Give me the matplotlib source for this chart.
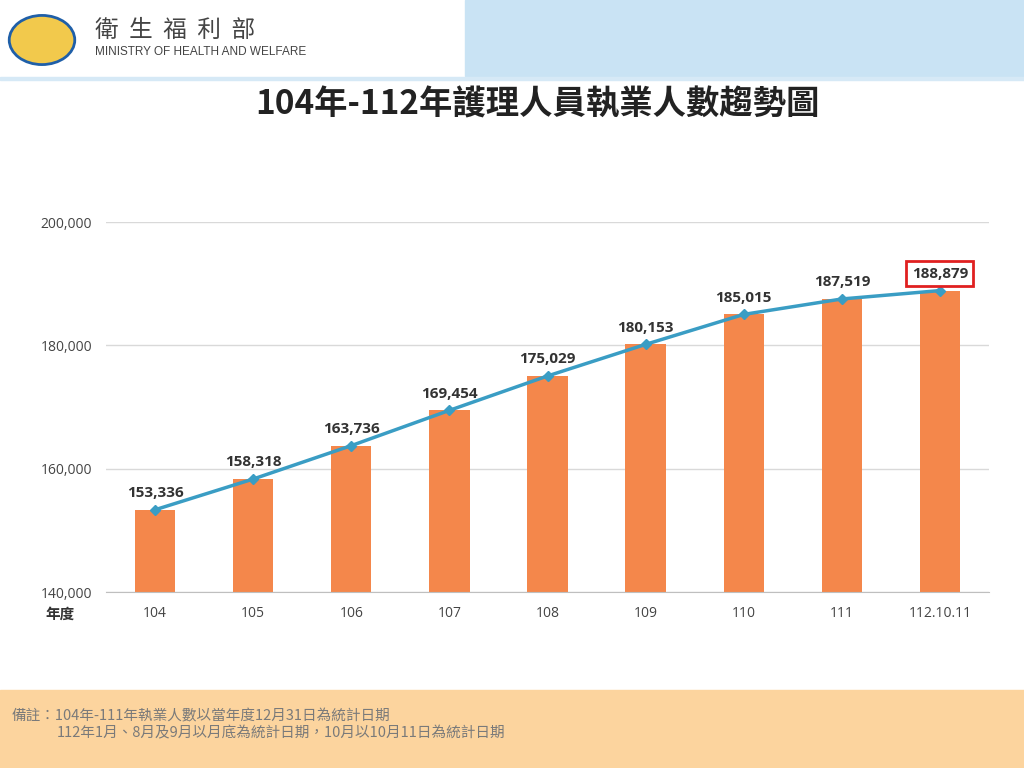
import matplotlib
matplotlib.use("Agg")
import matplotlib.pyplot as plt
from matplotlib.patches import Rectangle, Circle

plt.rcParams["font.family"] = ["Open Sans", "Noto Sans CJK TC", "DejaVu Sans"]
CJK = ["Noto Sans CJK TC", "DejaVu Sans"]

years = ["104", "105", "106", "107", "108", "109", "110", "111", "112.10.11"]
nurses = [153336, 158318, 163736, 169454, 175029, 180153, 185015, 187519, 188879]
yticks = [140000, 160000, 180000, 200000]

fig = plt.figure(figsize=(10.24, 7.68), dpi=100)

# header
fig.patches.append(Rectangle((465 / 1024, 1 - 76 / 768), 1 - 465 / 1024, 76 / 768,
                             transform=fig.transFigure, color="#c9e3f4", zorder=0))
fig.patches.append(Rectangle((0, 1 - 80 / 768), 1, 3 / 768,
                             transform=fig.transFigure, color="#d6e9f6", zorder=0))
fig.patches.append(Circle((42 / 1024, 1 - 40 / 768), 0.032, transform=fig.transFigure,
                          facecolor="#f2c94c", edgecolor="#1f5fa8", lw=2))
fig.text(95 / 1024, 1 - 30 / 768, "衛  生  福  利  部", fontsize=17, color="#444444",
         va="center", family=CJK)
fig.text(95 / 1024, 1 - 52 / 768, "MINISTRY OF HEALTH AND WELFARE", fontsize=8.5,
         color="#444444", va="center", family=["Liberation Sans"])

fig.text(0.525, 1 - 105 / 768, "104年-112年護理人員執業人數趨勢圖", fontsize=24,
         fontweight="bold", color="#222222", ha="center", va="center", family=CJK)

# footer
fig.patches.append(Rectangle((0, 0), 1, 78 / 768, transform=fig.transFigure,
                             color="#fcd49e", zorder=0))
fig.text(12 / 1024, 1 - 716 / 768, "備註：104年-111年執業人數以當年度12月31日為統計日期",
         fontsize=10.5, color="#7a7a7a", va="center", family=CJK)
fig.text(57 / 1024, 1 - 733 / 768, "112年1月、8月及9月以月底為統計日期，10月以10月11日為統計日期",
         fontsize=10.5, color="#7a7a7a", va="center", family=CJK)

ax = fig.add_axes([106 / 1024, 1 - 592 / 768, 883 / 1024, 370 / 768])
x = range(len(years))
ax.bar(x, nurses, width=0.41, color="#f4874b", zorder=2)
ax.plot(x, nurses, color="#3a9dc4", lw=2.5, marker="D", markersize=5, zorder=3)
for i, v in enumerate(nurses):
    bbox = dict(boxstyle="square,pad=0.35", fc="none", ec="#e02020", lw=2) if i == len(nurses) - 1 else None
    ax.text(i, v + 1600, f"{v:,}", ha="center", va="bottom", fontsize=11,
            fontweight="bold", color="#333333", bbox=bbox, zorder=4)

ax.set_xlim(-0.5, len(years) - 0.5)
ax.set_ylim(140000, 200000)
ax.set_yticks(yticks)
ax.set_yticklabels([f"{t:,}" for t in yticks], fontsize=10, color="#444444")
ax.set_xticks(list(x))
ax.set_xticklabels(years, fontsize=10, color="#444444")
ax.yaxis.grid(True, color="#d9d9d9", lw=1, zorder=0)
for s in ["top", "right", "left"]:
    ax.spines[s].set_visible(False)
ax.spines["bottom"].set_color("#bfbfbf")
ax.tick_params(length=0, pad=10)
fig.text(60 / 1024, 1 - 614 / 768, "年度", fontsize=10.5, fontweight="bold",
         color="#333333", ha="center", va="center", family=CJK)

fig.savefig("out.png", dpi=100)
